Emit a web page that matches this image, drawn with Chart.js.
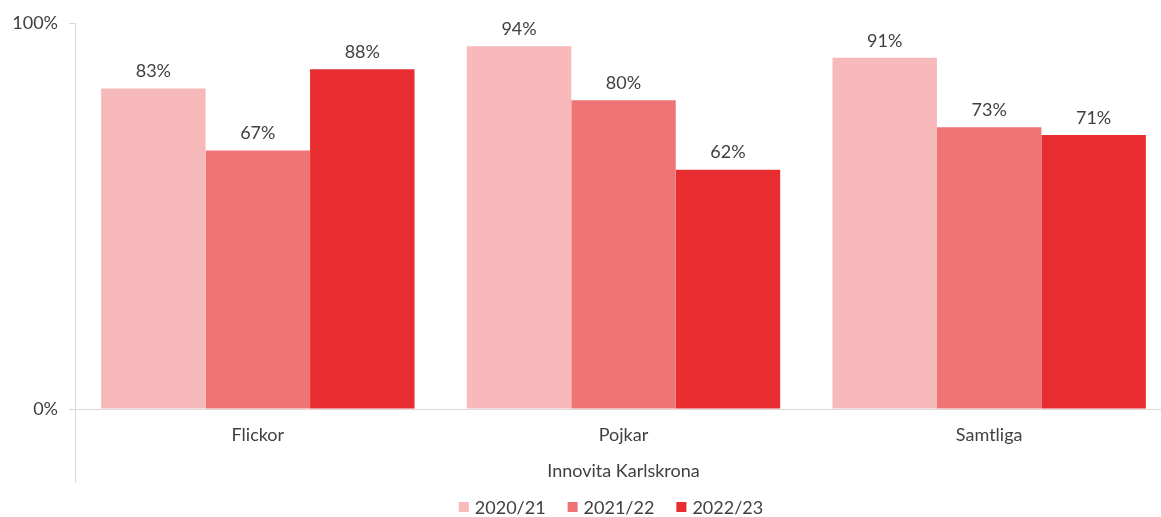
<!DOCTYPE html>
<html>
<head>
<meta charset="utf-8">
<script src="https://cdn.jsdelivr.net/npm/chart.js@4"></script>
<style>
  html, body { margin: 0; padding: 0; background: #fff; overflow: hidden; }
  #wrap { width: 1172px; height: 517px; }
</style>
</head>
<body>
<div id="wrap"><canvas id="chart" width="1172" height="517"></canvas></div>
<script>
const categories = ['Flickor', 'Pojkar', 'Samtliga'];
const seriesNames = ['2020/21', '2021/22', '2022/23'];
const values2020 = [83, 94, 91];
const values2021 = [67, 80, 73];
const values2022 = [88, 62, 71];
const yTicks = [0, 100];
const axisTitle = 'Innovita Karlskrona';

const colors = ['#F8B9BA', '#EF7476', '#E82D31'];
const textColor = '#404040';
const lineColor = '#d9d9d9';
const fontFamily = 'Lato, "Open Sans", sans-serif';
const fontSize = 18;

// draws the value above every bar
const valueLabels = {
  id: 'valueLabels',
  afterDatasetsDraw(chart) {
    const ctx = chart.ctx;
    ctx.save();
    ctx.font = fontSize + 'px ' + fontFamily;
    ctx.fillStyle = textColor;
    ctx.textAlign = 'center';
    ctx.textBaseline = 'bottom';
    chart.data.datasets.forEach((ds, i) => {
      chart.getDatasetMeta(i).data.forEach((bar, j) => {
        ctx.fillText(ds.data[j] + '%', bar.x, bar.y - 8);
      });
    });
    ctx.restore();
  }
};

// left axis line runs down past the category labels, plus a compact legend at the bottom
const axisExtend = {
  id: 'axisExtend',
  afterDraw(chart) {
    const ctx = chart.ctx;
    const a = chart.chartArea;
    ctx.save();
    ctx.strokeStyle = lineColor;
    ctx.lineWidth = 1;
    ctx.beginPath();
    ctx.moveTo(a.left + 0.5, a.bottom);
    ctx.lineTo(a.left + 0.5, 483);
    ctx.stroke();

    ctx.font = fontSize + 'px ' + fontFamily;
    ctx.textBaseline = 'middle';
    ctx.textAlign = 'left';
    const box = 10, gap = 6, itemGap = 22, y = 507;
    const items = chart.data.datasets.map(ds => ({ text: ds.label, color: ds.backgroundColor, w: ctx.measureText(ds.label).width }));
    const total = items.reduce((s, it) => s + box + gap + it.w, 0) + itemGap * (items.length - 1);
    let x = 611 - total / 2;
    items.forEach(it => {
      ctx.fillStyle = it.color;
      ctx.fillRect(x, y - box / 2, box, box);
      ctx.fillStyle = textColor;
      ctx.fillText(it.text, x + box + gap, y + 1);
      x += box + gap + it.w + itemGap;
    });
    ctx.restore();
  }
};

new Chart(document.getElementById('chart'), {
  type: 'bar',
  data: {
    labels: categories,
    datasets: [
      { label: seriesNames[0], data: values2020, backgroundColor: colors[0] },
      { label: seriesNames[1], data: values2021, backgroundColor: colors[1] },
      { label: seriesNames[2], data: values2022, backgroundColor: colors[2] }
    ]
  },
  options: {
    responsive: false,
    animation: false,
    layout: { padding: { top: 23, left: 0, right: 0, bottom: 0 } },
    datasets: { bar: { categoryPercentage: 0.857, barPercentage: 1.0 } },
    plugins: {
      legend: { display: false },
      tooltip: { enabled: false }
    },
    scales: {
      x: {
        afterFit(scale) { scale.height = 108; },
        grid: { display: false },
        border: { color: lineColor },
        ticks: { color: textColor, padding: 7, font: { family: fontFamily, size: fontSize } },
        title: { display: true, text: axisTitle, color: textColor, padding: { top: 10, bottom: 35 }, font: { family: fontFamily, size: fontSize } }
      },
      y: {
        min: 0, max: 100,
        afterFit(scale) { scale.width = 75; },
        afterBuildTicks(scale) { scale.ticks = yTicks.map(v => ({ value: v })); },
        grid: { drawOnChartArea: false, tickLength: 6, color: lineColor },
        border: { color: lineColor },
        ticks: { color: textColor, padding: 11, font: { family: fontFamily, size: fontSize }, callback: v => v + '%' }
      }
    }
  },
  plugins: [valueLabels, axisExtend]
});
</script>
</body>
</html>
